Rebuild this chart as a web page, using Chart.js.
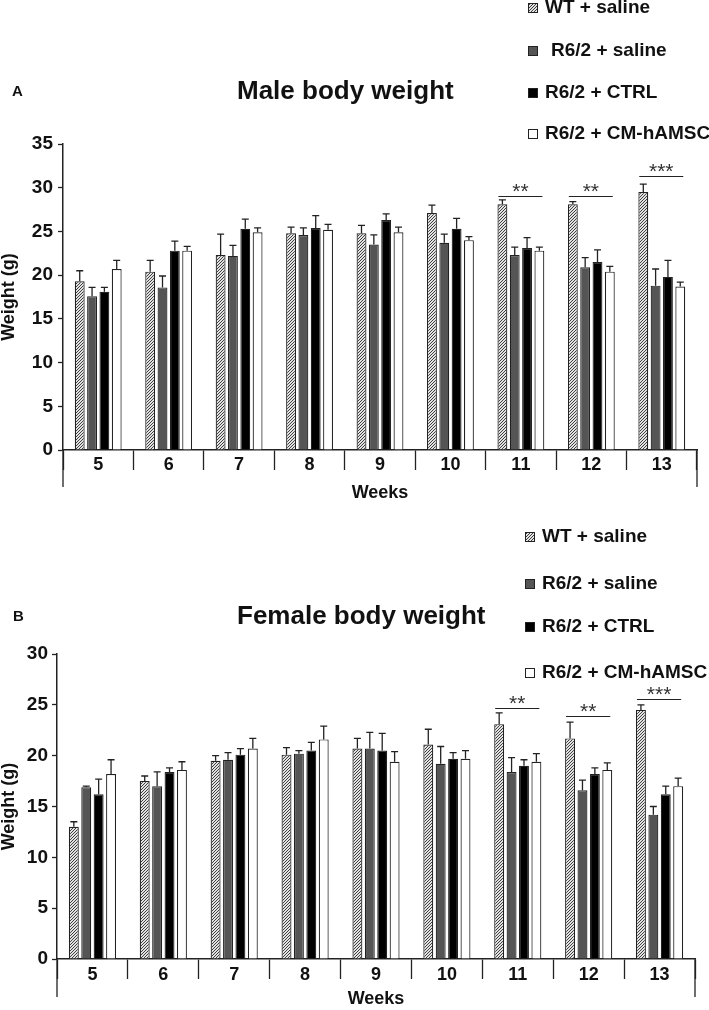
<!DOCTYPE html>
<html>
<head>
<meta charset="utf-8">
<script src="https://cdn.jsdelivr.net/npm/chart.js@4.4.1/dist/chart.umd.min.js"></script>
<style>
  body { margin: 0; background: #fff; }
  canvas { display: block; }
</style>
</head>
<body>
<canvas id="maleChart" width="709" height="505"></canvas>
<canvas id="femaleChart" width="709" height="505"></canvas>
<script>
const weeks = ['5', '6', '7', '8', '9', '10', '11', '12', '13'];
const groups = ['WT + saline', 'R6/2 + saline', 'R6/2 + CTRL', 'R6/2 + CM-hAMSC'];

// Male body weight (g): means and upper error
const maleWT = [19.3, 20.4, 22.3, 24.8, 24.8, 27.1, 28.1, 28.1, 29.5];
const maleWTErr = [1.2, 1.3, 2.4, 0.7, 0.9, 0.9, 0.5, 0.3, 0.9];
const maleSaline = [17.6, 18.6, 22.2, 24.6, 23.5, 23.7, 22.3, 20.9, 18.8];
const maleSalineErr = [1.0, 1.3, 1.2, 0.8, 1.1, 1.0, 0.9, 1.1, 1.9];
const maleCtrl = [18.1, 22.8, 25.3, 25.4, 26.3, 25.3, 23.1, 21.5, 19.8];
const maleCtrlErr = [0.5, 1.1, 1.1, 1.4, 0.7, 1.2, 1.2, 1.4, 1.9];
const maleCM = [20.7, 22.8, 24.9, 25.2, 24.9, 24.0, 22.8, 20.4, 18.7];
const maleCMErr = [1.0, 0.5, 0.5, 0.6, 0.6, 0.4, 0.4, 0.6, 0.5];

// Female body weight (g)
const femaleWT = [13.0, 17.5, 19.5, 20.1, 20.7, 21.1, 23.1, 21.7, 24.5];
const femaleWTErr = [0.5, 0.5, 0.5, 0.7, 1.0, 1.5, 1.1, 1.6, 0.5];
const femaleSaline = [16.9, 17.0, 19.6, 20.2, 20.7, 19.2, 18.4, 16.6, 14.2];
const femaleSalineErr = [0.1, 1.4, 0.7, 0.3, 1.6, 1.7, 1.4, 1.0, 0.8];
const femaleCtrl = [16.2, 18.4, 20.1, 20.5, 20.5, 19.7, 19.0, 18.2, 16.2];
const femaleCtrlErr = [1.5, 0.4, 0.6, 0.8, 1.7, 0.6, 0.6, 0.6, 0.8];
const femaleCM = [18.2, 18.6, 20.7, 21.6, 19.4, 19.7, 19.4, 18.6, 17.0];
const femaleCMErr = [1.4, 0.8, 1.0, 1.3, 1.0, 0.8, 0.8, 0.7, 0.8];

// significance brackets (week, height in g, stars)
const sigWeeks = ['11', '12', '13'];
const sigStars = ['**', '**', '***'];
const maleSigY = [29.1, 29.1, 31.3];
const femaleSigY = [24.7, 23.9, 25.6];

const FONT = '"Liberation Sans", Arial, Helvetica, sans-serif';
Chart.defaults.font.family = FONT;

// dense "////" hatch for the WT bars
function hatch() {
    const c = document.createElement('canvas');
    c.width = 3;
    c.height = 3;
    const g = c.getContext('2d');
    g.fillStyle = '#e2e2e2';
    g.fillRect(0, 0, 3, 3);
    g.fillStyle = '#404040';
    g.fillRect(0, 2, 1, 1);
    g.fillRect(1, 1, 1, 1);
    g.fillRect(2, 0, 1, 1);
    return g.createPattern(c, 'repeat');
}

// error bars (upper half only)
const errorBars = {
    id: 'errorBars',
    afterDatasetsDraw(chart) {
        const ctx = chart.ctx;
        const yScale = chart.scales.y;
        ctx.save();
        ctx.strokeStyle = '#222';
        ctx.lineWidth = 1.3;
        chart.data.datasets.forEach((ds, i) => {
            chart.getDatasetMeta(i).data.forEach((bar, j) => {
                const top = yScale.getPixelForValue(ds.data[j] + ds.errors[j]);
                ctx.beginPath();
                ctx.moveTo(bar.x, bar.y);
                ctx.lineTo(bar.x, top);
                ctx.moveTo(bar.x - 3.5, top);
                ctx.lineTo(bar.x + 3.5, top);
                ctx.stroke();
            });
        });
        ctx.restore();
    }
};

// panel letter, title, legend, outer dividers, significance
const decor = {
    id: 'decor',
    afterDraw(chart, args, o) {
        const ctx = chart.ctx;
        const xs = chart.scales.x;
        const ys = chart.scales.y;
        ctx.save();
        ctx.fillStyle = '#111';
        ctx.textBaseline = 'middle';
        ctx.textAlign = 'left';
        ctx.font = 'bold 15px ' + FONT;
        ctx.fillText(o.letter, o.letterX, o.titleY);
        ctx.font = 'bold 26px ' + FONT;
        ctx.fillText(o.title, 237, o.titleY);

        // legend
        chart.data.datasets.forEach((ds, i) => {
            const ly = o.legendY[i];
            ctx.fillStyle = ds.backgroundColor;
            ctx.fillRect(o.legendX, ly - 5, 10, 10);
            ctx.strokeStyle = '#222';
            ctx.lineWidth = 1;
            ctx.strokeRect(o.legendX + 0.5, ly - 4.5, 9, 9);
            ctx.fillStyle = '#111';
            ctx.font = 'bold 19px ' + FONT;
            ctx.fillText(ds.label, o.legendX + 17 + (o.indent[i] || 0), ly);
        });

        // longer outer dividers below the axis
        ctx.strokeStyle = '#222';
        ctx.lineWidth = 1.3;
        ctx.beginPath();
        ctx.moveTo(xs.left, xs.top);
        ctx.lineTo(xs.left, xs.top + o.outerLen);
        ctx.moveTo(xs.right, xs.top);
        ctx.lineTo(xs.right, xs.top + o.outerLen);
        ctx.stroke();

        // significance lines and stars
        const wt = chart.getDatasetMeta(0).data;
        const cm = chart.getDatasetMeta(3).data;
        ctx.lineWidth = 1;
        ctx.textAlign = 'center';
        ctx.textBaseline = 'alphabetic';
        ctx.font = '21px ' + FONT;
        o.sigY.forEach((v, k) => {
            const idx = weeks.indexOf(sigWeeks[k]);
            const x0 = wt[idx].x - 4;
            const x1 = cm[idx].x + 3;
            const yy = Math.round(ys.getPixelForValue(v)) + 0.5;
            ctx.beginPath();
            ctx.moveTo(x0, yy);
            ctx.lineTo(x1, yy);
            ctx.stroke();
            ctx.fillStyle = '#333';
            ctx.fillText(sigStars[k], (x0 + x1) / 2, yy + 1);
        });
        ctx.restore();
    }
};

function makeChart(id, series, cfg) {
    const ctx = document.getElementById(id).getContext('2d');
    const fills = [hatch(), '#555555', '#000000', '#ffffff'];
    const datasets = series.map((s, i) => ({
        label: cfg.labels[i],
        data: s[0],
        errors: s[1],
        backgroundColor: fills[i],
        borderColor: '#222',
        borderWidth: 1.2
    }));

    return new Chart(ctx, {
        type: 'bar',
        data: { labels: weeks, datasets: datasets },
        options: {
            responsive: false,
            animation: false,
            devicePixelRatio: 1,
            layout: { padding: { top: cfg.top, right: cfg.right, left: 0, bottom: 0 } },
            datasets: { bar: { categoryPercentage: 0.7, barPercentage: 0.8 } },
            scales: {
                x: {
                    grid: { offset: true, drawOnChartArea: false, drawTicks: true, tickLength: 20, color: '#222', tickColor: '#222', tickWidth: 1.3 },
                    border: { color: '#222', width: 1.5 },
                    ticks: { padding: cfg.xPad, color: '#111', autoSkip: false, maxRotation: 0, font: { size: 18, weight: 'bold' } },
                    title: { display: true, text: 'Weeks', color: '#111', font: { size: 18, weight: 'bold' }, padding: { top: 0, bottom: cfg.weeksPad } },
                    afterFit: s => { s.height = cfg.xHeight; }
                },
                y: {
                    min: 0,
                    max: cfg.max,
                    ticks: { stepSize: 5, padding: cfg.yPad, color: '#111', font: { size: 19, weight: 'bold' } },
                    grid: { drawOnChartArea: false, tickLength: 5, tickColor: '#222', tickWidth: 1.3 },
                    border: { color: '#222', width: 1.5 },
                    title: { display: true, text: 'Weight (g)', color: '#111', font: { size: 18, weight: 'bold', lineHeight: 1 }, padding: { top: 0, bottom: 0 } },
                    afterFit: s => { s.width = cfg.axisX; }
                }
            },
            plugins: {
                legend: { display: false },
                tooltip: { enabled: false },
                decor: cfg.decor
            }
        },
        plugins: [errorBars, decor]
    });
}

makeChart('maleChart', [
    [maleWT, maleWTErr], [maleSaline, maleSalineErr], [maleCtrl, maleCtrlErr], [maleCM, maleCMErr]
], {
    labels: groups,
    max: 35, top: 144, right: 12, axisX: 63, xHeight: 55, xPad: -16, yPad: 5, weeksPad: 1,
    decor: {
        letter: 'A', letterX: 12, title: 'Male body weight', titleY: 92,
        legendX: 528, legendY: [8, 51, 93, 134], indent: [0, 6, 0, 0],
        outerLen: 37, sigY: maleSigY
    }
});

makeChart('femaleChart', [
    [femaleWT, femaleWTErr], [femaleSaline, femaleSalineErr], [femaleCtrl, femaleCtrlErr], [femaleCM, femaleCMErr]
], {
    labels: groups,
    max: 30, top: 149, right: 14, axisX: 57, xHeight: 51, xPad: -15, yPad: 4, weeksPad: 0,
    decor: {
        letter: 'B', letterX: 13, title: 'Female body weight', titleY: 112,
        legendX: 525, legendY: [32, 79, 122, 168], indent: [0, 0, 0, 0],
        outerLen: 38, sigY: femaleSigY
    }
});
</script>
</body>
</html>
